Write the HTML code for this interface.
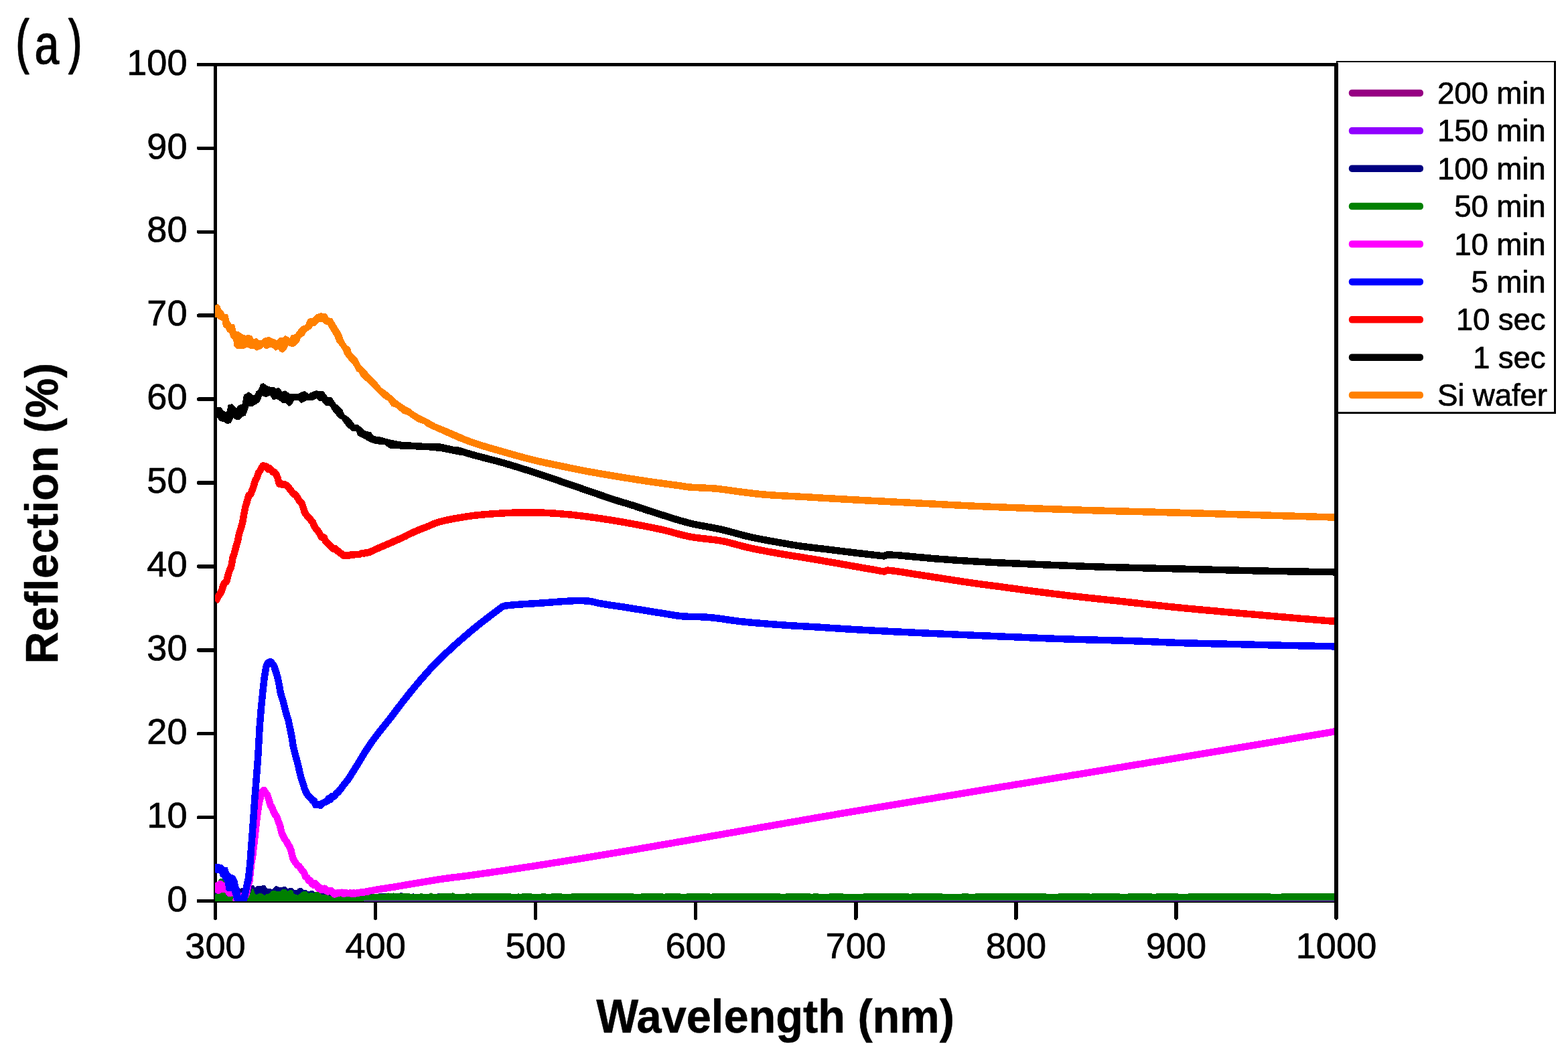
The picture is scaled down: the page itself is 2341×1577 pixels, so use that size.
<!DOCTYPE html>
<html lang="en"><head><meta charset="utf-8"><title>Reflection vs Wavelength</title>
<style>
html,body{margin:0;padding:0;background:#fff;}
body{width:2341px;height:1577px;overflow:hidden;}
svg{display:block;}
text{font-family:"Liberation Sans",Arial,Helvetica,sans-serif;fill:#000;stroke:#000;stroke-width:0.7px;stroke-linejoin:round;}
.tick{font-size:54.2px;}
.leg{font-size:45.8px;letter-spacing:-0.2px;}
.ttl{font-size:66.7px;font-weight:bold;stroke-width:0.5px;}
.crv{fill:none;stroke-width:10.5;stroke-linejoin:round;stroke-linecap:butt;}
.env{stroke-width:2.4;stroke-linejoin:round;}
.ax{stroke:#000;stroke-width:5.5;fill:none;}
</style></head><body>
<svg xmlns="http://www.w3.org/2000/svg" width="2341" height="1577" viewBox="0 0 2341 1577">
<rect x="0" y="0" width="2341" height="1577" fill="#fff"/>
<g class="ax" shape-rendering="crispEdges">
<line x1="321.5" y1="93.75" x2="321.5" y2="1348.25"/>
<line x1="321.5" y1="96.5" x2="1997.75" y2="96.5"/>
<line x1="321.5" y1="1345.5" x2="1997.75" y2="1345.5"/>
</g>
<g class="ax" stroke-linecap="round" shape-rendering="crispEdges">
<line x1="296.6" y1="96.50" x2="321.5" y2="96.50"/>
<line x1="296.6" y1="221.40" x2="321.5" y2="221.40"/>
<line x1="296.6" y1="346.30" x2="321.5" y2="346.30"/>
<line x1="296.6" y1="471.20" x2="321.5" y2="471.20"/>
<line x1="296.6" y1="596.10" x2="321.5" y2="596.10"/>
<line x1="296.6" y1="721.00" x2="321.5" y2="721.00"/>
<line x1="296.6" y1="845.90" x2="321.5" y2="845.90"/>
<line x1="296.6" y1="970.80" x2="321.5" y2="970.80"/>
<line x1="296.6" y1="1095.70" x2="321.5" y2="1095.70"/>
<line x1="296.6" y1="1220.60" x2="321.5" y2="1220.60"/>
<line x1="296.6" y1="1345.50" x2="321.5" y2="1345.50"/>
<line x1="321.50" y1="1345.5" x2="321.50" y2="1371"/>
<line x1="560.57" y1="1345.5" x2="560.57" y2="1371"/>
<line x1="799.64" y1="1345.5" x2="799.64" y2="1371"/>
<line x1="1038.71" y1="1345.5" x2="1038.71" y2="1371"/>
<line x1="1277.79" y1="1345.5" x2="1277.79" y2="1371"/>
<line x1="1516.86" y1="1345.5" x2="1516.86" y2="1371"/>
<line x1="1755.93" y1="1345.5" x2="1755.93" y2="1371"/>
<line x1="1995.00" y1="1345.5" x2="1995.00" y2="1371"/>
</g>
<defs><clipPath id="pc"><rect x="320.9" y="90" width="1676" height="1255.9"/></clipPath></defs>
<g clip-path="url(#pc)" shape-rendering="crispEdges">
<path class="crv" stroke="#960082" d="M320.0,1341.5 L1998.0,1341.5"/>
<path class="crv" stroke="#9000ff" d="M320.0,1341.2 L1998.0,1341.2"/>
<path fill="#000080" d="M320.4,1345.2 L320.4,1329.6 L323.8,1331.2 L326.7,1336.7 L343.3,1336.7 L351.7,1330.0 L356.7,1327.5 L361.7,1325.8 L368.3,1324.2 L376.7,1322.1 L379.2,1322.5 L380.8,1325.0 L383.3,1323.3 L390.0,1322.9 L392.5,1322.1 L395.8,1322.3 L399.2,1327.1 L405.0,1327.5 L406.7,1327.9 L410.8,1323.2 L413.3,1323.2 L416.7,1325.0 L420.8,1325.0 L422.5,1324.2 L426.7,1324.3 L429.2,1327.1 L432.5,1326.2 L436.7,1326.2 L439.2,1328.8 L443.3,1329.2 L445.0,1326.7 L447.5,1326.0 L450.8,1326.2 L453.3,1329.2 L457.5,1329.2 L460.8,1331.7 L463.3,1330.4 L468.3,1330.4 L470.0,1332.1 L476.7,1333.3 L504.0,1335.8 L533.3,1335.8 L565.0,1334.6 L566.7,1334.0 L575.0,1334.0 L576.7,1334.8 L596.7,1334.6 L597.5,1333.3 L600.8,1333.3 L601.7,1334.8 L615.0,1334.8 L617.5,1334.0 L618.3,1335.0 L650.8,1335.0 L654.6,1334.0 L694.0,1335.2 L1998.0,1336.0 L1998.0,1345.2Z"/>
<path fill="#008000" d="M320.4,1346.5 L320.4,1344.9 L320.4,1336.7 L323.3,1335.0 L325.8,1315.0 L329.2,1311.7 L332.5,1311.7 L335.4,1316.7 L336.7,1331.7 L338.3,1337.5 L343.3,1338.8 L347.5,1337.5 L349.2,1342.5 L360.0,1343.3 L370.8,1339.2 L373.3,1335.8 L376.7,1326.7 L378.3,1327.5 L380.8,1335.0 L383.3,1335.8 L386.7,1334.2 L391.7,1334.6 L395.0,1337.5 L397.5,1335.4 L402.5,1334.2 L405.0,1330.8 L408.3,1330.0 L416.7,1331.2 L418.3,1331.7 L420.8,1328.3 L426.7,1328.3 L429.2,1330.8 L432.5,1329.2 L436.7,1329.6 L439.2,1335.0 L445.0,1336.7 L450.0,1332.5 L452.5,1331.2 L457.5,1331.2 L460.8,1333.8 L464.2,1332.5 L469.2,1333.8 L470.8,1332.1 L475.8,1332.1 L480.0,1335.8 L489.2,1336.2 L491.7,1337.9 L497.5,1338.3 L500.0,1338.3 L516.7,1338.5 L535.8,1338.3 L550.0,1336.2 L558.3,1335.0 L566.7,1334.6 L575.0,1334.8 L579.2,1333.3 L583.3,1334.2 L587.5,1333.3 L591.7,1334.3 L604.2,1333.8 L610.0,1334.3 L618.3,1335.0 L630.0,1334.3 L633.3,1335.2 L640.0,1334.8 L643.3,1333.2 L646.7,1334.6 L655.0,1334.6 L658.3,1334.2 L673.3,1334.2 L675.8,1333.2 L679.2,1334.6 L694.0,1334.8 L697.0,1333.8 L702.0,1334.8 L705.0,1334.3 L726.0,1334.3 L734.0,1334.3 L755.0,1334.3 L758.0,1334.3 L771.0,1334.8 L774.0,1334.3 L777.0,1334.8 L780.0,1334.3 L785.0,1334.3 L806.0,1334.8 L809.0,1334.3 L812.0,1334.3 L820.0,1334.8 L825.0,1334.3 L846.0,1334.6 L867.0,1334.3 L870.0,1334.3 L878.0,1334.3 L899.0,1334.3 L920.0,1334.3 L941.0,1334.3 L954.0,1334.8 L962.0,1334.0 L983.0,1334.0 L991.0,1334.6 L996.0,1334.3 L1001.0,1334.3 L1022.0,1334.6 L1043.0,1334.0 L1051.0,1334.0 L1059.0,1334.3 L1062.0,1334.8 L1067.0,1333.8 L1072.0,1334.0 L1085.0,1334.3 L1088.0,1333.8 L1096.0,1333.8 L1117.0,1334.0 L1138.0,1334.0 L1141.0,1334.3 L1149.0,1334.0 L1152.0,1334.3 L1160.0,1334.0 L1168.0,1334.8 L1176.0,1334.3 L1189.0,1333.8 L1194.0,1334.3 L1207.0,1334.3 L1212.0,1334.6 L1217.0,1334.3 L1230.0,1334.8 L1243.0,1334.3 L1248.0,1334.0 L1261.0,1334.6 L1266.0,1334.8 L1287.0,1334.6 L1300.0,1333.8 L1313.0,1334.3 L1318.0,1334.3 L1323.0,1334.3 L1328.0,1334.3 L1331.0,1334.0 L1352.0,1334.3 L1360.0,1334.6 L1363.0,1334.3 L1376.0,1333.8 L1397.0,1333.8 L1402.0,1334.3 L1415.0,1334.8 L1428.0,1334.8 L1441.0,1334.3 L1454.0,1334.8 L1457.0,1334.3 L1460.0,1334.3 L1473.0,1334.3 L1476.0,1333.8 L1497.0,1334.3 L1500.0,1334.3 L1521.0,1334.3 L1542.0,1334.3 L1550.0,1334.3 L1553.0,1334.3 L1574.0,1334.8 L1579.0,1334.6 L1587.0,1333.8 L1600.0,1334.3 L1603.0,1334.0 L1616.0,1334.0 L1629.0,1334.6 L1632.0,1334.3 L1635.0,1333.8 L1643.0,1334.0 L1648.0,1334.3 L1653.0,1333.8 L1658.0,1334.3 L1679.0,1334.6 L1682.0,1334.6 L1703.0,1333.8 L1708.0,1333.8 L1713.0,1333.8 L1718.0,1334.3 L1723.0,1334.8 L1728.0,1334.3 L1749.0,1334.0 L1757.0,1334.3 L1760.0,1334.6 L1773.0,1334.6 L1778.0,1333.8 L1791.0,1333.8 L1799.0,1334.3 L1804.0,1334.3 L1809.0,1334.0 L1814.0,1333.8 L1819.0,1334.0 L1840.0,1334.3 L1853.0,1333.8 L1856.0,1334.3 L1869.0,1334.3 L1882.0,1334.3 L1895.0,1333.8 L1898.0,1334.8 L1911.0,1334.8 L1914.0,1334.3 L1919.0,1334.3 L1922.0,1334.3 L1943.0,1334.0 L1948.0,1334.0 L1956.0,1334.3 L1977.0,1334.3 L1980.0,1334.3 L1983.0,1334.3 L1996.0,1334.3 L1998.0,1334.3 L1998.0,1344.9 L545.0,1344.9 L540.0,1346.5Z"/>
<path fill="#ff00ff" stroke="#ff00ff" stroke-width="1" stroke-linejoin="round" d="M320.4,1318.3 L324.2,1317.9 L326.7,1315.8 L330.0,1315.0 L333.3,1317.5 L335.8,1319.2 L343.3,1328.3 L349.2,1336.7 L351.7,1346.2 L350.8,1346.2 L349.2,1342.5 L347.5,1336.7 L345.0,1338.3 L341.7,1338.8 L338.3,1336.7 L335.8,1332.1 L331.7,1332.1 L327.5,1334.2 L325.0,1334.6 L320.4,1331.7Z"/>
<path class="crv" stroke="#ff00ff" d="M351.0,1340.8 L353.4,1344.7 L355.8,1347.2 L358.2,1339.3 L360.6,1337.8 L362.9,1343.5 L365.3,1340.0 L367.7,1335.2 L370.1,1323.0 L372.5,1315.6 L374.9,1290.8 L377.3,1277.3 L379.7,1256.7 L382.1,1235.0 L384.5,1214.5 L386.8,1199.6 L389.2,1189.8 L391.6,1182.0 L394.0,1180.0 L396.4,1183.4 L398.8,1186.8 L401.2,1193.1 L403.6,1202.2 L406.0,1205.6 L408.4,1211.7 L410.7,1216.6 L413.1,1219.6 L415.5,1226.4 L417.9,1232.4 L420.3,1243.3 L422.7,1248.4 L425.1,1253.3 L427.5,1256.1 L429.9,1260.7 L432.3,1264.4 L434.6,1270.3 L437.0,1280.8 L439.4,1285.7 L441.8,1289.1 L444.2,1292.2 L446.6,1293.8 L449.0,1296.9 L451.4,1300.7 L453.8,1302.9 L456.2,1309.5 L458.5,1310.5 L460.9,1315.2 L463.3,1315.1 L465.7,1320.0 L468.1,1321.5 L470.5,1319.3 L472.9,1322.0 L475.3,1326.8 L477.7,1325.7 L480.1,1329.2 L482.4,1327.3 L484.8,1326.7 L487.2,1330.1 L489.6,1331.6 L492.0,1330.1 L494.4,1330.1 L496.8,1332.1 L499.2,1335.4 L501.6,1335.2 L504.0,1333.1 L506.3,1333.5 L508.7,1332.9 L511.1,1332.7 L513.5,1335.1 L515.9,1333.0 L518.3,1334.2 L520.7,1333.9 L523.1,1333.3 L525.5,1334.8 L527.9,1333.4 L530.2,1334.6 L532.6,1333.3 L535.0,1333.6 L537.4,1332.8 L539.8,1332.5 L542.2,1333.0 L544.6,1332.3 L547.0,1331.3 L549.4,1331.4 L551.8,1330.4 L554.1,1330.0 L556.5,1329.7 L558.9,1329.2 L560.0,1329.0 L565.0,1328.2 L570.0,1327.4 L575.0,1326.7 L580.0,1325.9 L585.0,1325.1 L590.0,1324.3 L595.0,1323.4 L600.0,1322.6 L605.0,1321.7 L610.0,1320.8 L615.0,1320.0 L620.0,1319.1 L625.0,1318.3 L630.0,1317.5 L635.0,1316.6 L640.0,1315.8 L645.0,1315.0 L650.0,1314.2 L655.0,1313.4 L660.0,1312.7 L665.0,1311.9 L670.0,1311.3 L675.0,1310.6 L680.0,1310.0 L685.0,1309.4 L690.0,1308.8 L695.0,1308.2 L700.0,1307.5 L705.0,1306.8 L710.0,1306.1 L715.0,1305.4 L720.0,1304.7 L725.0,1304.0 L730.0,1303.3 L735.0,1302.5 L740.0,1301.8 L745.0,1301.1 L750.0,1300.4 L755.0,1299.6 L760.0,1298.9 L765.0,1298.1 L770.0,1297.4 L775.0,1296.6 L780.0,1295.9 L785.0,1295.1 L790.0,1294.4 L795.0,1293.6 L800.0,1292.8 L805.0,1292.0 L810.0,1291.3 L815.0,1290.5 L820.0,1289.7 L825.0,1288.9 L830.0,1288.1 L835.0,1287.3 L840.0,1286.5 L845.0,1285.7 L850.0,1284.9 L855.0,1284.1 L860.0,1283.3 L865.0,1282.5 L870.0,1281.7 L875.0,1280.8 L880.0,1280.0 L885.0,1279.2 L890.0,1278.4 L895.0,1277.5 L900.0,1276.7 L905.0,1275.9 L910.0,1275.0 L915.0,1274.2 L920.0,1273.4 L925.0,1272.5 L930.0,1271.7 L935.0,1270.8 L940.0,1270.0 L945.0,1269.1 L950.0,1268.3 L955.0,1267.4 L960.0,1266.5 L965.0,1265.7 L970.0,1264.8 L975.0,1264.0 L980.0,1263.1 L985.0,1262.2 L990.0,1261.4 L995.0,1260.5 L1000.0,1259.6 L1005.0,1258.8 L1010.0,1257.9 L1015.0,1257.0 L1020.0,1256.1 L1025.0,1255.3 L1030.0,1254.4 L1035.0,1253.5 L1040.0,1252.6 L1045.0,1251.8 L1050.0,1250.9 L1055.0,1250.0 L1060.0,1249.1 L1065.0,1248.2 L1070.0,1247.4 L1075.0,1246.5 L1080.0,1245.6 L1085.0,1244.7 L1090.0,1243.8 L1095.0,1243.0 L1100.0,1242.1 L1105.0,1241.2 L1110.0,1240.3 L1115.0,1239.4 L1120.0,1238.6 L1125.0,1237.7 L1130.0,1236.8 L1135.0,1235.9 L1140.0,1235.0 L1145.0,1234.2 L1150.0,1233.3 L1155.0,1232.4 L1160.0,1231.5 L1165.0,1230.6 L1170.0,1229.8 L1175.0,1228.9 L1180.0,1228.0 L1185.0,1227.1 L1190.0,1226.3 L1195.0,1225.4 L1200.0,1224.5 L1205.0,1223.7 L1210.0,1222.8 L1215.0,1221.9 L1220.0,1221.1 L1225.0,1220.2 L1230.0,1219.3 L1235.0,1218.5 L1240.0,1217.6 L1245.0,1216.8 L1250.0,1215.9 L1255.0,1215.1 L1260.0,1214.2 L1265.0,1213.4 L1270.0,1212.5 L1275.0,1211.7 L1280.0,1210.8 L1285.0,1210.0 L1290.0,1209.2 L1295.0,1208.3 L1300.0,1207.5 L1305.0,1206.7 L1310.0,1205.8 L1315.0,1205.0 L1320.0,1204.2 L1325.0,1203.3 L1330.0,1202.5 L1335.0,1201.7 L1340.0,1200.9 L1345.0,1200.0 L1350.0,1199.2 L1355.0,1198.4 L1360.0,1197.5 L1365.0,1196.7 L1370.0,1195.9 L1375.0,1195.1 L1380.0,1194.2 L1385.0,1193.4 L1390.0,1192.6 L1395.0,1191.8 L1400.0,1190.9 L1405.0,1190.1 L1410.0,1189.3 L1415.0,1188.4 L1420.0,1187.6 L1425.0,1186.8 L1430.0,1186.0 L1435.0,1185.1 L1440.0,1184.3 L1445.0,1183.5 L1450.0,1182.7 L1455.0,1181.8 L1460.0,1181.0 L1465.0,1180.2 L1470.0,1179.4 L1475.0,1178.5 L1480.0,1177.7 L1485.0,1176.9 L1490.0,1176.1 L1495.0,1175.2 L1500.0,1174.4 L1505.0,1173.6 L1510.0,1172.8 L1515.0,1171.9 L1520.0,1171.1 L1525.0,1170.3 L1530.0,1169.5 L1535.0,1168.7 L1540.0,1167.8 L1545.0,1167.0 L1550.0,1166.2 L1555.0,1165.4 L1560.0,1164.5 L1565.0,1163.7 L1570.0,1162.9 L1575.0,1162.1 L1580.0,1161.2 L1585.0,1160.4 L1590.0,1159.6 L1595.0,1158.8 L1600.0,1157.9 L1605.0,1157.1 L1610.0,1156.3 L1615.0,1155.5 L1620.0,1154.6 L1625.0,1153.8 L1630.0,1153.0 L1635.0,1152.2 L1640.0,1151.3 L1645.0,1150.5 L1650.0,1149.7 L1655.0,1148.9 L1660.0,1148.0 L1665.0,1147.2 L1670.0,1146.4 L1675.0,1145.6 L1680.0,1144.7 L1685.0,1143.9 L1690.0,1143.1 L1695.0,1142.2 L1700.0,1141.4 L1705.0,1140.6 L1710.0,1139.8 L1715.0,1138.9 L1720.0,1138.1 L1725.0,1137.3 L1730.0,1136.5 L1735.0,1135.6 L1740.0,1134.8 L1745.0,1134.0 L1750.0,1133.1 L1755.0,1132.3 L1760.0,1131.5 L1765.0,1130.6 L1770.0,1129.8 L1775.0,1129.0 L1780.0,1128.2 L1785.0,1127.3 L1790.0,1126.5 L1795.0,1125.7 L1800.0,1124.8 L1805.0,1124.0 L1810.0,1123.2 L1815.0,1122.3 L1820.0,1121.5 L1825.0,1120.7 L1830.0,1119.8 L1835.0,1119.0 L1840.0,1118.2 L1845.0,1117.3 L1850.0,1116.5 L1855.0,1115.7 L1860.0,1114.8 L1865.0,1114.0 L1870.0,1113.1 L1875.0,1112.3 L1880.0,1111.5 L1885.0,1110.6 L1890.0,1109.8 L1895.0,1109.0 L1900.0,1108.1 L1905.0,1107.3 L1910.0,1106.4 L1915.0,1105.6 L1920.0,1104.8 L1925.0,1103.9 L1930.0,1103.1 L1935.0,1102.2 L1940.0,1101.4 L1945.0,1100.5 L1950.0,1099.7 L1955.0,1098.9 L1960.0,1098.0 L1965.0,1097.2 L1970.0,1096.3 L1975.0,1095.5 L1980.0,1094.6 L1985.0,1093.8 L1990.0,1092.9 L1995.0,1092.1 L1999.0,1091.4"/>
<path fill="#0000ff" stroke="#0000ff" stroke-width="1" stroke-linejoin="round" d="M320.4,1291.5 L323.3,1290.0 L326.7,1290.8 L331.7,1291.5 L335.0,1295.0 L339.2,1295.8 L341.7,1303.3 L345.0,1306.7 L348.3,1307.1 L351.7,1310.0 L354.2,1315.8 L355.8,1324.2 L357.5,1327.1 L360.0,1347.5 L350.8,1346.2 L349.2,1341.7 L347.5,1335.0 L345.8,1330.4 L340.0,1330.4 L337.5,1328.3 L336.7,1319.2 L331.7,1310.0 L329.2,1308.8 L327.9,1304.2 L325.0,1303.3 L320.4,1302.9Z"/>
<path class="crv" stroke="#0000ff" d="M354.2,1337.3 L356.6,1345.7 L359.0,1350.2 L361.4,1351.2 L363.8,1343.9 L366.1,1334.7 L368.5,1322.6 L370.9,1312.2 L373.3,1290.5 L375.7,1258.0 L378.1,1226.2 L380.5,1190.8 L382.9,1160.9 L385.3,1128.5 L387.7,1085.0 L390.0,1056.6 L392.4,1032.3 L394.8,1011.4 L397.2,996.4 L399.6,990.4 L402.0,988.7 L404.4,988.4 L406.8,991.5 L409.2,994.9 L411.6,1002.3 L413.9,1009.4 L416.3,1020.3 L418.7,1034.2 L421.1,1042.2 L423.5,1050.1 L425.9,1060.3 L428.3,1068.7 L430.7,1076.5 L433.1,1088.2 L435.5,1099.7 L437.8,1114.7 L440.2,1124.4 L442.6,1133.4 L445.0,1142.1 L447.4,1153.2 L449.8,1162.5 L452.2,1169.2 L454.6,1177.7 L457.0,1182.9 L459.4,1187.5 L461.7,1189.6 L464.1,1192.3 L466.5,1195.3 L468.9,1195.6 L471.3,1202.0 L473.7,1201.8 L476.1,1201.3 L478.5,1202.7 L480.9,1200.2 L483.3,1198.5 L485.6,1197.8 L488.0,1196.9 L490.4,1192.5 L492.8,1194.3 L495.2,1189.4 L497.6,1190.1 L500.0,1188.4 L502.4,1184.2 L504.8,1183.4 L507.2,1179.9 L509.5,1177.4 L511.9,1173.7 L514.3,1170.8 L516.7,1167.8 L519.1,1164.7 L520.0,1163.4 L525.0,1155.8 L530.0,1147.8 L535.0,1139.8 L540.0,1131.5 L545.0,1123.1 L550.0,1115.3 L555.0,1108.1 L560.0,1101.3 L565.0,1094.7 L570.0,1088.3 L575.0,1082.1 L580.0,1075.9 L585.0,1069.5 L590.0,1062.9 L595.0,1056.2 L600.0,1049.7 L605.0,1043.3 L610.0,1037.0 L615.0,1030.8 L620.0,1024.7 L625.0,1018.8 L630.0,1013.0 L635.0,1007.3 L640.0,1001.6 L645.0,996.1 L650.0,990.8 L655.0,985.8 L660.0,981.0 L665.0,976.3 L670.0,971.6 L675.0,967.0 L680.0,962.5 L685.0,958.1 L690.0,953.7 L695.0,949.4 L700.0,945.1 L705.0,940.9 L710.0,936.8 L715.0,932.7 L720.0,928.8 L725.0,924.9 L730.0,921.1 L735.0,917.3 L740.0,913.5 L745.0,909.8 L750.0,906.0 L755.0,904.5 L760.0,904.0 L765.0,903.5 L770.0,903.1 L775.0,902.7 L780.0,902.3 L785.0,902.0 L790.0,901.7 L795.0,901.4 L800.0,901.1 L805.0,900.8 L810.0,900.5 L815.0,900.1 L820.0,899.7 L825.0,899.3 L830.0,898.9 L835.0,898.5 L840.0,898.2 L845.0,897.9 L850.0,897.6 L855.0,897.3 L860.0,897.1 L865.0,897.0 L870.0,897.1 L875.0,897.4 L880.0,897.8 L885.0,898.7 L890.0,899.9 L895.0,901.0 L900.0,901.9 L905.0,902.7 L910.0,903.5 L915.0,904.2 L920.0,904.9 L925.0,905.6 L930.0,906.4 L935.0,907.2 L940.0,908.0 L945.0,908.8 L950.0,909.6 L955.0,910.4 L960.0,911.2 L965.0,912.1 L970.0,912.9 L975.0,913.7 L980.0,914.5 L985.0,915.2 L990.0,916.0 L995.0,916.8 L1000.0,917.6 L1005.0,918.5 L1010.0,919.3 L1015.0,919.9 L1020.0,920.4 L1025.0,920.7 L1030.0,920.9 L1035.0,921.0 L1040.0,921.1 L1045.0,921.2 L1050.0,921.4 L1055.0,921.7 L1060.0,922.1 L1065.0,922.6 L1070.0,923.2 L1075.0,923.8 L1080.0,924.5 L1085.0,925.3 L1090.0,926.0 L1095.0,926.7 L1100.0,927.4 L1105.0,928.0 L1110.0,928.5 L1115.0,929.0 L1120.0,929.5 L1125.0,929.9 L1130.0,930.4 L1135.0,930.8 L1140.0,931.2 L1145.0,931.6 L1150.0,932.0 L1155.0,932.4 L1160.0,932.8 L1165.0,933.1 L1170.0,933.5 L1175.0,933.8 L1180.0,934.2 L1185.0,934.5 L1190.0,934.8 L1195.0,935.0 L1200.0,935.3 L1205.0,935.6 L1210.0,935.9 L1215.0,936.2 L1220.0,936.5 L1225.0,936.8 L1230.0,937.1 L1235.0,937.5 L1240.0,937.8 L1245.0,938.1 L1250.0,938.4 L1255.0,938.8 L1260.0,939.1 L1265.0,939.4 L1270.0,939.7 L1275.0,940.0 L1280.0,940.3 L1285.0,940.6 L1290.0,940.9 L1295.0,941.1 L1300.0,941.4 L1305.0,941.7 L1310.0,942.0 L1315.0,942.2 L1320.0,942.5 L1325.0,942.7 L1330.0,943.0 L1335.0,943.3 L1340.0,943.5 L1345.0,943.7 L1350.0,944.0 L1355.0,944.2 L1360.0,944.5 L1365.0,944.7 L1370.0,945.0 L1375.0,945.2 L1380.0,945.4 L1385.0,945.7 L1390.0,945.9 L1395.0,946.1 L1400.0,946.3 L1405.0,946.6 L1410.0,946.8 L1415.0,947.0 L1420.0,947.2 L1425.0,947.5 L1430.0,947.7 L1435.0,947.9 L1440.0,948.1 L1445.0,948.3 L1450.0,948.6 L1455.0,948.8 L1460.0,949.0 L1465.0,949.2 L1470.0,949.4 L1475.0,949.6 L1480.0,949.8 L1485.0,950.1 L1490.0,950.3 L1495.0,950.5 L1500.0,950.7 L1505.0,950.9 L1510.0,951.1 L1515.0,951.3 L1520.0,951.5 L1525.0,951.7 L1530.0,951.9 L1535.0,952.1 L1540.0,952.4 L1545.0,952.6 L1550.0,952.8 L1555.0,953.0 L1560.0,953.2 L1565.0,953.4 L1570.0,953.6 L1575.0,953.8 L1580.0,954.0 L1585.0,954.2 L1590.0,954.3 L1595.0,954.5 L1600.0,954.6 L1605.0,954.8 L1610.0,954.9 L1615.0,955.1 L1620.0,955.2 L1625.0,955.4 L1630.0,955.5 L1635.0,955.6 L1640.0,955.8 L1645.0,955.9 L1650.0,956.0 L1655.0,956.1 L1660.0,956.3 L1665.0,956.4 L1670.0,956.6 L1675.0,956.7 L1680.0,956.9 L1685.0,957.0 L1690.0,957.2 L1695.0,957.3 L1700.0,957.5 L1705.0,957.7 L1710.0,957.9 L1715.0,958.1 L1720.0,958.3 L1725.0,958.5 L1730.0,958.8 L1735.0,959.0 L1740.0,959.2 L1745.0,959.4 L1750.0,959.6 L1755.0,959.8 L1760.0,960.0 L1765.0,960.2 L1770.0,960.3 L1775.0,960.4 L1780.0,960.6 L1785.0,960.7 L1790.0,960.8 L1795.0,960.9 L1800.0,961.0 L1805.0,961.2 L1810.0,961.3 L1815.0,961.4 L1820.0,961.5 L1825.0,961.6 L1830.0,961.7 L1835.0,961.9 L1840.0,962.0 L1845.0,962.1 L1850.0,962.2 L1855.0,962.3 L1860.0,962.5 L1865.0,962.6 L1870.0,962.7 L1875.0,962.8 L1880.0,962.9 L1885.0,963.1 L1890.0,963.2 L1895.0,963.3 L1900.0,963.4 L1905.0,963.5 L1910.0,963.7 L1915.0,963.8 L1920.0,963.9 L1925.0,964.0 L1930.0,964.1 L1935.0,964.2 L1940.0,964.3 L1945.0,964.4 L1950.0,964.5 L1955.0,964.6 L1960.0,964.7 L1965.0,964.8 L1970.0,964.9 L1975.0,965.0 L1980.0,965.1 L1985.0,965.2 L1990.0,965.3 L1995.0,965.3 L1999.0,965.4"/>
<path class="crv" stroke="#ff0000" d="M321.3,897.8 L323.7,895.4 L326.1,890.2 L328.5,887.0 L330.9,882.3 L333.3,874.5 L335.7,869.7 L338.1,868.7 L340.5,859.1 L342.8,851.6 L345.2,846.4 L347.6,832.7 L350.0,825.9 L352.4,816.4 L354.8,808.4 L357.2,796.2 L359.6,789.3 L362.0,780.9 L364.4,766.9 L366.7,755.9 L369.1,748.1 L371.5,739.5 L373.9,738.5 L376.3,732.6 L378.7,725.7 L381.1,717.7 L383.5,713.7 L385.9,706.2 L388.3,702.9 L390.6,698.3 L393.0,695.2 L395.4,696.9 L397.8,696.5 L400.2,700.7 L402.6,699.3 L405.0,702.0 L407.4,705.1 L409.8,705.0 L412.2,708.1 L414.5,713.5 L416.9,722.4 L419.3,722.0 L421.7,723.9 L424.1,722.9 L426.5,724.2 L428.9,725.4 L431.3,728.1 L433.7,731.9 L436.1,734.8 L438.4,737.8 L440.8,738.4 L443.2,741.9 L445.6,745.6 L448.0,749.4 L450.4,751.4 L452.8,758.7 L455.2,766.0 L457.6,769.1 L460.0,771.9 L462.3,773.8 L464.7,777.9 L467.1,780.3 L469.5,786.4 L471.9,789.6 L474.3,792.6 L476.7,795.9 L479.1,801.0 L481.5,803.2 L483.9,802.7 L486.2,808.6 L488.6,810.9 L491.0,812.7 L493.4,815.3 L495.8,818.3 L498.2,819.9 L500.6,819.1 L503.0,822.6 L505.4,822.9 L507.8,826.3 L510.1,827.0 L512.5,829.4 L514.9,829.9 L517.3,829.0 L519.7,830.2 L522.1,828.8 L524.5,828.3 L526.9,829.2 L529.3,828.0 L531.7,828.0 L534.0,828.1 L536.4,828.0 L538.8,826.8 L541.2,826.0 L543.6,826.6 L546.0,825.4 L548.4,825.6 L550.8,825.0 L553.2,823.8 L555.6,823.0 L557.9,821.9 L560.3,820.7 L562.7,819.5 L565.1,818.4 L567.5,817.4 L569.9,816.5 L572.3,815.3 L574.7,814.3 L577.1,813.3 L579.5,812.3 L580.0,812.0 L585.0,809.9 L590.0,807.7 L595.0,805.6 L600.0,803.3 L605.0,800.9 L610.0,798.3 L615.0,795.9 L620.0,793.7 L625.0,791.5 L630.0,789.5 L635.0,787.6 L640.0,785.7 L645.0,783.4 L650.0,781.2 L655.0,779.7 L660.0,778.4 L665.0,777.2 L670.0,776.1 L675.0,775.1 L680.0,774.2 L685.0,773.3 L690.0,772.5 L695.0,771.7 L700.0,770.9 L705.0,770.2 L710.0,769.6 L715.0,769.1 L720.0,768.6 L725.0,768.2 L730.0,767.8 L735.0,767.4 L740.0,767.1 L745.0,766.8 L750.0,766.5 L755.0,766.2 L760.0,766.0 L765.0,765.7 L770.0,765.6 L775.0,765.4 L780.0,765.4 L785.0,765.3 L790.0,765.3 L795.0,765.3 L800.0,765.3 L805.0,765.4 L810.0,765.6 L815.0,765.9 L820.0,766.2 L825.0,766.5 L830.0,766.8 L835.0,767.2 L840.0,767.6 L845.0,768.0 L850.0,768.4 L855.0,768.9 L860.0,769.5 L865.0,770.1 L870.0,770.7 L875.0,771.3 L880.0,772.0 L885.0,772.7 L890.0,773.4 L895.0,774.1 L900.0,774.8 L905.0,775.6 L910.0,776.4 L915.0,777.2 L920.0,778.0 L925.0,778.9 L930.0,779.7 L935.0,780.6 L940.0,781.5 L945.0,782.4 L950.0,783.3 L955.0,784.3 L960.0,785.2 L965.0,786.2 L970.0,787.2 L975.0,788.2 L980.0,789.3 L985.0,790.3 L990.0,791.4 L995.0,792.7 L1000.0,793.9 L1005.0,795.3 L1010.0,796.7 L1015.0,798.0 L1020.0,799.3 L1025.0,800.4 L1030.0,801.5 L1035.0,802.3 L1040.0,803.1 L1045.0,803.7 L1050.0,804.3 L1055.0,804.8 L1060.0,805.4 L1065.0,806.0 L1070.0,806.6 L1075.0,807.4 L1080.0,808.3 L1085.0,809.4 L1090.0,810.7 L1095.0,812.0 L1100.0,813.3 L1105.0,814.7 L1110.0,816.0 L1115.0,817.3 L1120.0,818.4 L1125.0,819.5 L1130.0,820.5 L1135.0,821.5 L1140.0,822.4 L1145.0,823.4 L1150.0,824.3 L1155.0,825.2 L1160.0,826.1 L1165.0,827.0 L1170.0,827.9 L1175.0,828.7 L1180.0,829.5 L1185.0,830.3 L1190.0,831.1 L1195.0,831.9 L1200.0,832.7 L1205.0,833.6 L1210.0,834.4 L1215.0,835.2 L1220.0,836.1 L1225.0,836.9 L1230.0,837.8 L1235.0,838.6 L1240.0,839.5 L1245.0,840.4 L1250.0,841.2 L1255.0,842.1 L1260.0,843.0 L1265.0,843.9 L1270.0,844.8 L1275.0,845.6 L1280.0,846.5 L1285.0,847.4 L1290.0,848.3 L1295.0,849.2 L1300.0,850.1 L1305.0,850.9 L1310.0,851.8 L1315.0,852.9 L1320.0,853.5 L1325.0,851.6 L1330.0,852.0 L1335.0,852.7 L1340.0,853.4 L1345.0,854.1 L1350.0,854.9 L1355.0,855.7 L1360.0,856.5 L1365.0,857.3 L1370.0,858.1 L1375.0,858.9 L1380.0,859.7 L1385.0,860.4 L1390.0,861.2 L1395.0,862.0 L1400.0,862.7 L1405.0,863.5 L1410.0,864.3 L1415.0,865.1 L1420.0,865.8 L1425.0,866.6 L1430.0,867.4 L1435.0,868.2 L1440.0,868.9 L1445.0,869.7 L1450.0,870.4 L1455.0,871.1 L1460.0,871.8 L1465.0,872.5 L1470.0,873.1 L1475.0,873.8 L1480.0,874.4 L1485.0,875.1 L1490.0,875.7 L1495.0,876.4 L1500.0,877.1 L1505.0,877.8 L1510.0,878.4 L1515.0,879.1 L1520.0,879.8 L1525.0,880.5 L1530.0,881.2 L1535.0,881.8 L1540.0,882.5 L1545.0,883.2 L1550.0,883.8 L1555.0,884.4 L1560.0,885.1 L1565.0,885.7 L1570.0,886.4 L1575.0,887.0 L1580.0,887.6 L1585.0,888.2 L1590.0,888.8 L1595.0,889.4 L1600.0,890.0 L1605.0,890.6 L1610.0,891.1 L1615.0,891.7 L1620.0,892.2 L1625.0,892.8 L1630.0,893.3 L1635.0,893.8 L1640.0,894.4 L1645.0,894.9 L1650.0,895.4 L1655.0,896.0 L1660.0,896.5 L1665.0,897.0 L1670.0,897.6 L1675.0,898.1 L1680.0,898.7 L1685.0,899.3 L1690.0,899.8 L1695.0,900.4 L1700.0,900.9 L1705.0,901.5 L1710.0,902.1 L1715.0,902.6 L1720.0,903.2 L1725.0,903.7 L1730.0,904.3 L1735.0,904.8 L1740.0,905.3 L1745.0,905.9 L1750.0,906.4 L1755.0,906.9 L1760.0,907.4 L1765.0,907.9 L1770.0,908.4 L1775.0,908.9 L1780.0,909.3 L1785.0,909.8 L1790.0,910.3 L1795.0,910.7 L1800.0,911.2 L1805.0,911.6 L1810.0,912.1 L1815.0,912.5 L1820.0,913.0 L1825.0,913.5 L1830.0,913.9 L1835.0,914.4 L1840.0,914.8 L1845.0,915.2 L1850.0,915.7 L1855.0,916.1 L1860.0,916.6 L1865.0,917.0 L1870.0,917.4 L1875.0,917.9 L1880.0,918.3 L1885.0,918.7 L1890.0,919.2 L1895.0,919.6 L1900.0,920.0 L1905.0,920.5 L1910.0,920.9 L1915.0,921.4 L1920.0,921.8 L1925.0,922.2 L1930.0,922.7 L1935.0,923.1 L1940.0,923.6 L1945.0,924.0 L1950.0,924.4 L1955.0,924.8 L1960.0,925.2 L1965.0,925.7 L1970.0,926.1 L1975.0,926.5 L1980.0,926.9 L1985.0,927.3 L1990.0,927.6 L1995.0,928.0 L1999.0,928.3"/>
<path class="env" fill="#000" stroke="#000" d="M321.3,609.5 L325.0,608.7 L329.2,609.5 L333.3,614.5 L339.2,617.0 L341.7,605.4 L346.7,604.5 L353.3,611.2 L356.7,606.2 L362.5,604.5 L365.0,590.4 L371.7,586.5 L376.7,591.2 L380.8,591.2 L383.3,585.4 L386.7,582.9 L390.0,574.5 L393.3,573.2 L397.5,577.0 L403.3,578.7 L408.3,578.7 L410.8,581.2 L416.7,580.4 L420.8,586.2 L425.8,584.5 L431.7,588.7 L446.7,588.7 L450.8,586.2 L455.0,585.4 L460.8,589.5 L465.0,587.0 L471.7,584.5 L482.5,585.4 L488.3,593.7 L494.2,593.7 L500.0,602.9 L510.0,612.0 L513.3,619.5 L521.7,625.4 L529.2,635.4 L534.2,635.4 L545.0,644.5 L553.3,646.5 L557.5,652.5 L565.0,652.9 L583.3,657.9 L600.0,660.9 L633.3,662.9 L658.3,663.7 L688.0,670.4 L688.0,678.8 L658.3,673.0 L633.3,670.5 L608.3,670.1 L581.7,668.3 L575.0,663.0 L561.7,662.1 L551.7,658.8 L545.0,654.6 L535.0,649.6 L532.5,643.0 L526.7,643.0 L518.3,636.3 L510.8,625.5 L506.7,623.8 L498.3,613.8 L492.5,604.6 L486.7,604.6 L480.8,598.0 L476.7,598.0 L472.5,593.8 L466.7,597.1 L456.7,597.1 L450.0,600.5 L445.8,596.3 L438.3,596.3 L435.8,602.1 L431.7,605.5 L426.7,600.5 L421.7,600.5 L416.7,596.3 L413.3,594.6 L408.3,596.3 L403.3,588.8 L397.5,592.1 L390.8,589.6 L386.7,599.6 L380.0,603.8 L375.8,606.3 L370.8,605.5 L365.8,619.6 L361.7,620.8 L357.5,625.5 L353.3,626.3 L348.3,622.1 L343.7,630.8 L339.2,631.8 L334.2,628.8 L329.2,628.0 L325.0,623.0 L321.3,622.1Z"/>
<path class="crv" stroke="#000" d="M680.0,671.3 L684.0,672.6 L688.0,673.8 L692.0,675.1 L696.0,676.3 L700.0,677.5 L704.0,678.6 L708.0,679.8 L712.0,680.9 L716.0,681.9 L720.0,683.0 L724.0,684.0 L728.0,685.0 L732.0,686.1 L736.0,687.1 L740.0,688.2 L744.0,689.2 L748.0,690.3 L752.0,691.4 L756.0,692.6 L760.0,693.8 L764.0,695.0 L768.0,696.2 L772.0,697.4 L776.0,698.6 L780.0,699.9 L784.0,701.2 L788.0,702.4 L792.0,703.7 L796.0,705.0 L800.0,706.3 L804.0,707.6 L808.0,708.9 L812.0,710.3 L816.0,711.6 L820.0,713.0 L824.0,714.4 L828.0,715.7 L832.0,717.1 L836.0,718.5 L840.0,719.9 L844.0,721.3 L848.0,722.6 L852.0,724.0 L856.0,725.4 L860.0,726.8 L864.0,728.1 L868.0,729.5 L872.0,730.9 L876.0,732.2 L880.0,733.6 L884.0,735.0 L888.0,736.4 L892.0,737.8 L896.0,739.2 L900.0,740.5 L904.0,741.9 L908.0,743.3 L912.0,744.6 L916.0,745.9 L920.0,747.2 L924.0,748.5 L928.0,749.7 L932.0,750.9 L936.0,752.0 L940.0,753.3 L944.0,754.5 L948.0,755.8 L952.0,757.2 L956.0,758.5 L960.0,759.8 L964.0,761.2 L968.0,762.5 L972.0,763.8 L976.0,765.1 L980.0,766.4 L984.0,767.7 L988.0,768.9 L992.0,770.1 L996.0,771.4 L1000.0,772.7 L1004.0,773.9 L1008.0,775.2 L1012.0,776.4 L1016.0,777.6 L1020.0,778.7 L1024.0,779.8 L1028.0,780.9 L1032.0,781.9 L1036.0,782.8 L1040.0,783.6 L1044.0,784.4 L1048.0,785.2 L1052.0,785.9 L1056.0,786.6 L1060.0,787.3 L1064.0,788.1 L1068.0,788.8 L1072.0,789.7 L1076.0,790.5 L1080.0,791.5 L1084.0,792.5 L1088.0,793.5 L1092.0,794.6 L1096.0,795.7 L1100.0,796.8 L1104.0,797.9 L1108.0,799.0 L1112.0,800.0 L1116.0,801.0 L1120.0,801.9 L1124.0,802.8 L1128.0,803.6 L1132.0,804.4 L1136.0,805.2 L1140.0,806.0 L1144.0,806.7 L1148.0,807.5 L1152.0,808.2 L1156.0,808.9 L1160.0,809.6 L1164.0,810.3 L1168.0,811.0 L1172.0,811.7 L1176.0,812.4 L1180.0,813.1 L1184.0,813.8 L1188.0,814.4 L1192.0,815.1 L1196.0,815.6 L1200.0,816.2 L1204.0,816.7 L1208.0,817.2 L1212.0,817.7 L1216.0,818.2 L1220.0,818.7 L1224.0,819.1 L1228.0,819.6 L1232.0,820.0 L1236.0,820.5 L1240.0,821.0 L1244.0,821.5 L1248.0,822.0 L1252.0,822.5 L1256.0,823.0 L1260.0,823.5 L1264.0,824.0 L1268.0,824.5 L1272.0,824.9 L1276.0,825.4 L1280.0,825.9 L1284.0,826.4 L1288.0,826.8 L1292.0,827.3 L1296.0,827.8 L1300.0,828.2 L1304.0,828.7 L1308.0,829.1 L1312.0,829.5 L1316.0,830.1 L1320.0,830.4 L1324.0,828.7 L1328.0,828.5 L1332.0,828.7 L1336.0,828.9 L1340.0,829.2 L1344.0,829.5 L1348.0,829.9 L1352.0,830.3 L1356.0,830.6 L1360.0,831.0 L1364.0,831.4 L1368.0,831.8 L1372.0,832.1 L1376.0,832.5 L1380.0,832.8 L1384.0,833.2 L1388.0,833.6 L1392.0,833.9 L1396.0,834.3 L1400.0,834.6 L1404.0,834.9 L1408.0,835.2 L1412.0,835.5 L1416.0,835.8 L1420.0,836.1 L1424.0,836.4 L1428.0,836.7 L1432.0,837.0 L1436.0,837.2 L1440.0,837.5 L1444.0,837.7 L1448.0,838.0 L1452.0,838.2 L1456.0,838.5 L1460.0,838.7 L1464.0,838.9 L1468.0,839.1 L1472.0,839.3 L1476.0,839.5 L1480.0,839.8 L1484.0,840.0 L1488.0,840.2 L1492.0,840.4 L1496.0,840.5 L1500.0,840.7 L1504.0,840.9 L1508.0,841.1 L1512.0,841.3 L1516.0,841.5 L1520.0,841.6 L1524.0,841.8 L1528.0,842.0 L1532.0,842.2 L1536.0,842.3 L1540.0,842.5 L1544.0,842.7 L1548.0,842.8 L1552.0,843.0 L1556.0,843.2 L1560.0,843.4 L1564.0,843.5 L1568.0,843.7 L1572.0,843.9 L1576.0,844.0 L1580.0,844.2 L1584.0,844.4 L1588.0,844.5 L1592.0,844.7 L1596.0,844.8 L1600.0,845.0 L1604.0,845.2 L1608.0,845.3 L1612.0,845.5 L1616.0,845.6 L1620.0,845.8 L1624.0,845.9 L1628.0,846.0 L1632.0,846.2 L1636.0,846.3 L1640.0,846.5 L1644.0,846.6 L1648.0,846.7 L1652.0,846.9 L1656.0,847.0 L1660.0,847.1 L1664.0,847.2 L1668.0,847.3 L1672.0,847.4 L1676.0,847.5 L1680.0,847.6 L1684.0,847.7 L1688.0,847.8 L1692.0,847.9 L1696.0,848.0 L1700.0,848.1 L1704.0,848.2 L1708.0,848.3 L1712.0,848.4 L1716.0,848.5 L1720.0,848.6 L1724.0,848.7 L1728.0,848.8 L1732.0,848.8 L1736.0,848.9 L1740.0,849.0 L1744.0,849.1 L1748.0,849.2 L1752.0,849.3 L1756.0,849.4 L1760.0,849.5 L1764.0,849.6 L1768.0,849.7 L1772.0,849.8 L1776.0,849.9 L1780.0,850.0 L1784.0,850.1 L1788.0,850.2 L1792.0,850.3 L1796.0,850.4 L1800.0,850.5 L1804.0,850.6 L1808.0,850.7 L1812.0,850.8 L1816.0,850.9 L1820.0,851.0 L1824.0,851.1 L1828.0,851.2 L1832.0,851.3 L1836.0,851.4 L1840.0,851.5 L1844.0,851.6 L1848.0,851.7 L1852.0,851.8 L1856.0,851.9 L1860.0,852.0 L1864.0,852.1 L1868.0,852.2 L1872.0,852.3 L1876.0,852.4 L1880.0,852.5 L1884.0,852.6 L1888.0,852.7 L1892.0,852.7 L1896.0,852.8 L1900.0,852.9 L1904.0,852.9 L1908.0,853.0 L1912.0,853.1 L1916.0,853.2 L1920.0,853.2 L1924.0,853.3 L1928.0,853.3 L1932.0,853.4 L1936.0,853.5 L1940.0,853.5 L1944.0,853.6 L1948.0,853.7 L1952.0,853.7 L1956.0,853.8 L1960.0,853.8 L1964.0,853.9 L1968.0,853.9 L1972.0,854.0 L1976.0,854.1 L1980.0,854.1 L1984.0,854.2 L1988.0,854.2 L1992.0,854.3 L1996.0,854.4 L1999.0,854.4"/>
<path class="env" fill="#ff8000" stroke="#ff8000" d="M321.3,457.0 L325.0,455.4 L327.5,457.9 L330.0,463.7 L332.5,465.4 L335.0,470.4 L339.2,470.4 L341.7,480.4 L345.0,485.4 L349.2,485.4 L351.7,495.4 L355.8,496.2 L361.7,500.4 L366.7,502.0 L370.0,501.2 L375.0,502.0 L377.5,507.0 L383.3,506.5 L386.7,509.5 L390.8,509.5 L394.2,505.9 L401.7,504.0 L406.7,507.0 L410.8,507.9 L412.5,510.4 L418.3,505.4 L423.3,505.4 L425.8,502.4 L430.0,504.0 L433.3,507.0 L435.8,501.2 L440.8,500.4 L446.7,492.9 L451.7,487.9 L456.7,486.2 L460.8,477.0 L468.3,475.4 L472.5,470.4 L479.2,468.4 L486.7,469.5 L490.0,475.4 L495.0,476.2 L500.0,484.5 L509.2,499.5 L511.7,507.0 L516.7,516.2 L521.7,519.5 L524.2,527.9 L533.3,537.0 L536.7,544.5 L545.0,552.9 L548.3,557.0 L558.3,567.9 L563.3,572.9 L568.3,579.5 L580.0,587.9 L591.7,598.7 L605.0,607.9 L611.7,611.2 L616.7,615.4 L626.7,621.2 L640.0,627.9 L650.0,633.7 L666.7,640.4 L688.0,649.5 L688.0,658.8 L675.0,653.0 L660.0,646.3 L645.0,639.6 L636.7,635.5 L633.3,632.1 L625.0,629.6 L616.7,624.6 L610.0,619.6 L601.7,616.3 L591.7,608.0 L585.0,605.5 L580.0,598.0 L573.3,593.8 L563.3,584.6 L555.0,576.3 L546.7,568.0 L540.0,562.1 L536.7,555.5 L533.3,553.8 L527.5,543.0 L521.7,537.1 L515.0,528.8 L513.3,523.0 L509.2,517.1 L503.3,509.6 L500.0,501.3 L494.2,492.1 L490.0,484.3 L486.7,483.8 L481.7,479.6 L475.8,479.6 L470.0,485.5 L466.7,486.3 L463.3,490.5 L456.7,494.6 L453.3,500.5 L448.3,503.8 L445.0,511.3 L439.2,516.3 L435.8,517.1 L430.0,514.6 L426.7,521.3 L421.7,525.5 L418.3,523.8 L415.8,520.5 L411.7,522.5 L407.5,518.8 L404.2,517.1 L400.0,519.3 L395.8,519.3 L393.3,516.3 L390.8,519.3 L383.3,522.5 L378.3,519.3 L373.3,519.3 L369.2,517.1 L363.3,520.1 L353.3,519.3 L350.8,517.1 L349.2,506.3 L345.8,503.8 L343.3,496.3 L340.0,494.6 L337.5,489.6 L334.2,487.1 L332.5,478.0 L329.2,477.1 L325.0,473.8 L321.3,472.1Z"/>
<path class="crv" stroke="#ff8000" d="M680.0,650.5 L684.0,652.3 L688.0,654.1 L692.0,655.8 L696.0,657.4 L700.0,658.9 L704.0,660.3 L708.0,661.7 L712.0,663.0 L716.0,664.3 L720.0,665.6 L724.0,666.8 L728.0,668.0 L732.0,669.2 L736.0,670.4 L740.0,671.5 L744.0,672.7 L748.0,673.8 L752.0,674.9 L756.0,676.1 L760.0,677.2 L764.0,678.4 L768.0,679.5 L772.0,680.6 L776.0,681.7 L780.0,682.8 L784.0,683.9 L788.0,684.9 L792.0,685.9 L796.0,686.9 L800.0,687.9 L804.0,688.8 L808.0,689.7 L812.0,690.6 L816.0,691.5 L820.0,692.3 L824.0,693.2 L828.0,694.0 L832.0,694.8 L836.0,695.6 L840.0,696.5 L844.0,697.3 L848.0,698.1 L852.0,699.0 L856.0,699.8 L860.0,700.6 L864.0,701.4 L868.0,702.2 L872.0,703.0 L876.0,703.8 L880.0,704.5 L884.0,705.2 L888.0,705.9 L892.0,706.6 L896.0,707.3 L900.0,708.0 L904.0,708.7 L908.0,709.3 L912.0,710.0 L916.0,710.6 L920.0,711.3 L924.0,712.0 L928.0,712.6 L932.0,713.3 L936.0,713.9 L940.0,714.6 L944.0,715.2 L948.0,715.9 L952.0,716.5 L956.0,717.1 L960.0,717.7 L964.0,718.4 L968.0,718.9 L972.0,719.5 L976.0,720.1 L980.0,720.6 L984.0,721.2 L988.0,721.7 L992.0,722.3 L996.0,722.8 L1000.0,723.4 L1004.0,723.9 L1008.0,724.4 L1012.0,725.0 L1016.0,725.5 L1020.0,726.2 L1024.0,726.8 L1028.0,727.3 L1032.0,727.7 L1036.0,727.9 L1040.0,728.1 L1044.0,728.3 L1048.0,728.5 L1052.0,728.7 L1056.0,728.8 L1060.0,729.0 L1064.0,729.3 L1068.0,729.6 L1072.0,730.0 L1076.0,730.5 L1080.0,731.0 L1084.0,731.5 L1088.0,732.1 L1092.0,732.7 L1096.0,733.2 L1100.0,733.8 L1104.0,734.3 L1108.0,734.8 L1112.0,735.3 L1116.0,735.8 L1120.0,736.3 L1124.0,736.8 L1128.0,737.3 L1132.0,737.7 L1136.0,738.1 L1140.0,738.5 L1144.0,738.8 L1148.0,739.1 L1152.0,739.4 L1156.0,739.6 L1160.0,739.9 L1164.0,740.1 L1168.0,740.3 L1172.0,740.5 L1176.0,740.7 L1180.0,740.9 L1184.0,741.1 L1188.0,741.3 L1192.0,741.6 L1196.0,741.8 L1200.0,742.0 L1204.0,742.2 L1208.0,742.5 L1212.0,742.7 L1216.0,742.9 L1220.0,743.2 L1224.0,743.4 L1228.0,743.7 L1232.0,743.9 L1236.0,744.1 L1240.0,744.4 L1244.0,744.6 L1248.0,744.8 L1252.0,745.0 L1256.0,745.3 L1260.0,745.5 L1264.0,745.7 L1268.0,745.9 L1272.0,746.2 L1276.0,746.4 L1280.0,746.6 L1284.0,746.8 L1288.0,747.0 L1292.0,747.3 L1296.0,747.5 L1300.0,747.7 L1304.0,747.9 L1308.0,748.1 L1312.0,748.3 L1316.0,748.5 L1320.0,748.7 L1324.0,749.0 L1328.0,749.2 L1332.0,749.4 L1336.0,749.6 L1340.0,749.8 L1344.0,750.0 L1348.0,750.2 L1352.0,750.4 L1356.0,750.6 L1360.0,750.8 L1364.0,751.0 L1368.0,751.3 L1372.0,751.5 L1376.0,751.7 L1380.0,751.9 L1384.0,752.1 L1388.0,752.3 L1392.0,752.5 L1396.0,752.7 L1400.0,752.9 L1404.0,753.1 L1408.0,753.4 L1412.0,753.6 L1416.0,753.8 L1420.0,754.0 L1424.0,754.2 L1428.0,754.4 L1432.0,754.6 L1436.0,754.8 L1440.0,755.0 L1444.0,755.2 L1448.0,755.4 L1452.0,755.6 L1456.0,755.8 L1460.0,756.0 L1464.0,756.1 L1468.0,756.3 L1472.0,756.5 L1476.0,756.6 L1480.0,756.8 L1484.0,757.0 L1488.0,757.1 L1492.0,757.3 L1496.0,757.5 L1500.0,757.6 L1504.0,757.8 L1508.0,757.9 L1512.0,758.1 L1516.0,758.2 L1520.0,758.4 L1524.0,758.5 L1528.0,758.7 L1532.0,758.8 L1536.0,759.0 L1540.0,759.1 L1544.0,759.3 L1548.0,759.4 L1552.0,759.6 L1556.0,759.7 L1560.0,759.9 L1564.0,760.0 L1568.0,760.1 L1572.0,760.3 L1576.0,760.4 L1580.0,760.6 L1584.0,760.7 L1588.0,760.8 L1592.0,761.0 L1596.0,761.1 L1600.0,761.2 L1604.0,761.4 L1608.0,761.5 L1612.0,761.6 L1616.0,761.8 L1620.0,761.9 L1624.0,762.0 L1628.0,762.1 L1632.0,762.3 L1636.0,762.4 L1640.0,762.5 L1644.0,762.6 L1648.0,762.7 L1652.0,762.9 L1656.0,763.0 L1660.0,763.1 L1664.0,763.2 L1668.0,763.3 L1672.0,763.4 L1676.0,763.5 L1680.0,763.6 L1684.0,763.7 L1688.0,763.8 L1692.0,763.9 L1696.0,764.0 L1700.0,764.1 L1704.0,764.2 L1708.0,764.3 L1712.0,764.4 L1716.0,764.5 L1720.0,764.6 L1724.0,764.7 L1728.0,764.9 L1732.0,765.0 L1736.0,765.1 L1740.0,765.2 L1744.0,765.3 L1748.0,765.4 L1752.0,765.5 L1756.0,765.6 L1760.0,765.7 L1764.0,765.8 L1768.0,765.9 L1772.0,766.0 L1776.0,766.2 L1780.0,766.3 L1784.0,766.4 L1788.0,766.5 L1792.0,766.6 L1796.0,766.7 L1800.0,766.9 L1804.0,767.0 L1808.0,767.1 L1812.0,767.2 L1816.0,767.3 L1820.0,767.4 L1824.0,767.6 L1828.0,767.7 L1832.0,767.8 L1836.0,767.9 L1840.0,768.0 L1844.0,768.1 L1848.0,768.3 L1852.0,768.4 L1856.0,768.5 L1860.0,768.6 L1864.0,768.7 L1868.0,768.8 L1872.0,769.0 L1876.0,769.1 L1880.0,769.2 L1884.0,769.3 L1888.0,769.4 L1892.0,769.6 L1896.0,769.7 L1900.0,769.8 L1904.0,769.9 L1908.0,770.0 L1912.0,770.1 L1916.0,770.3 L1920.0,770.4 L1924.0,770.5 L1928.0,770.6 L1932.0,770.7 L1936.0,770.9 L1940.0,771.0 L1944.0,771.1 L1948.0,771.2 L1952.0,771.3 L1956.0,771.4 L1960.0,771.6 L1964.0,771.7 L1968.0,771.8 L1972.0,771.9 L1976.0,772.0 L1980.0,772.2 L1984.0,772.3 L1988.0,772.4 L1992.0,772.5 L1996.0,772.6 L1999.0,772.7"/>
</g>
<g class="ax" shape-rendering="crispEdges">
<line x1="1995.0" y1="93.75" x2="1995.0" y2="1348.25"/>
<line x1="1995.0" y1="1345.5" x2="1995.0" y2="1371" stroke-linecap="round"/>
</g>
<path d="M1996.1,96 V92.1 H2321.6 V616.6 H1996" fill="none" stroke="#000" stroke-width="2.5" shape-rendering="crispEdges"/>
<rect x="1995" y="94" width="2" height="524" fill="#000" shape-rendering="crispEdges"/>
<rect x="2013.8" y="133.65" width="111.2" height="10.5" rx="4.6" fill="#960082"/>
<text class="leg" x="2307.5" y="155.0" text-anchor="end">200 min</text>
<rect x="2013.8" y="190.05" width="111.2" height="10.5" rx="4.6" fill="#9000ff"/>
<text class="leg" x="2307.5" y="211.4" text-anchor="end">150 min</text>
<rect x="2013.8" y="246.45" width="111.2" height="10.5" rx="4.6" fill="#000080"/>
<text class="leg" x="2307.5" y="267.8" text-anchor="end">100 min</text>
<rect x="2013.8" y="302.85" width="111.2" height="10.5" rx="4.6" fill="#008000"/>
<text class="leg" x="2307.5" y="324.2" text-anchor="end">50 min</text>
<rect x="2013.8" y="359.25" width="111.2" height="10.5" rx="4.6" fill="#ff00ff"/>
<text class="leg" x="2307.5" y="380.6" text-anchor="end">10 min</text>
<rect x="2013.8" y="415.65" width="111.2" height="10.5" rx="4.6" fill="#0000ff"/>
<text class="leg" x="2307.5" y="437.0" text-anchor="end">5 min</text>
<rect x="2013.8" y="472.05" width="111.2" height="10.5" rx="4.6" fill="#ff0000"/>
<text class="leg" x="2307.5" y="493.4" text-anchor="end">10 sec</text>
<rect x="2013.8" y="528.45" width="111.2" height="10.5" rx="4.6" fill="#000000"/>
<text class="leg" x="2307.5" y="549.8" text-anchor="end">1 sec</text>
<rect x="2013.8" y="584.85" width="111.2" height="10.5" rx="4.6" fill="#ff8000"/>
<text class="leg" x="2146" y="606.2">Si wafer</text>
<text class="tick" x="279.6" y="111.6" text-anchor="end">100</text>
<text class="tick" x="279.6" y="236.5" text-anchor="end">90</text>
<text class="tick" x="279.6" y="361.4" text-anchor="end">80</text>
<text class="tick" x="279.6" y="486.3" text-anchor="end">70</text>
<text class="tick" x="279.6" y="611.2" text-anchor="end">60</text>
<text class="tick" x="279.6" y="736.1" text-anchor="end">50</text>
<text class="tick" x="279.6" y="861.0" text-anchor="end">40</text>
<text class="tick" x="279.6" y="985.9" text-anchor="end">30</text>
<text class="tick" x="279.6" y="1110.8" text-anchor="end">20</text>
<text class="tick" x="279.6" y="1235.7" text-anchor="end">10</text>
<text class="tick" x="279.6" y="1360.6" text-anchor="end">0</text>
<text class="tick" x="321.5" y="1431.3" text-anchor="middle">300</text>
<text class="tick" x="560.6" y="1431.3" text-anchor="middle">400</text>
<text class="tick" x="799.6" y="1431.3" text-anchor="middle">500</text>
<text class="tick" x="1038.7" y="1431.3" text-anchor="middle">600</text>
<text class="tick" x="1277.8" y="1431.3" text-anchor="middle">700</text>
<text class="tick" x="1516.9" y="1431.3" text-anchor="middle">800</text>
<text class="tick" x="1755.9" y="1431.3" text-anchor="middle">900</text>
<text class="tick" x="1995.0" y="1431.3" text-anchor="middle">1000</text>
<text class="ttl" transform="translate(1157.5,1541.9) scale(1,1.05)" text-anchor="middle">Wavelength (nm)</text>
<text class="ttl" transform="translate(85.8,766.6) rotate(-90) scale(1,1.04)" text-anchor="middle" style="letter-spacing:0.38px">Reflection (%)</text>
<g style="font-size:100px;stroke-width:2.5px">
<text transform="translate(23.35,91.9) scale(0.59,0.882)">(</text>
<text transform="translate(51.25,94.7) scale(0.655,0.84)">a</text>
<text transform="translate(101.55,91.9) scale(0.60,0.882)">)</text>
<text transform="translate(24.45,91.9) scale(0.59,0.882)">(</text>
<text transform="translate(52.35,94.7) scale(0.655,0.84)">a</text>
<text transform="translate(102.65,91.9) scale(0.60,0.882)">)</text>
</g>
</svg></body></html>
